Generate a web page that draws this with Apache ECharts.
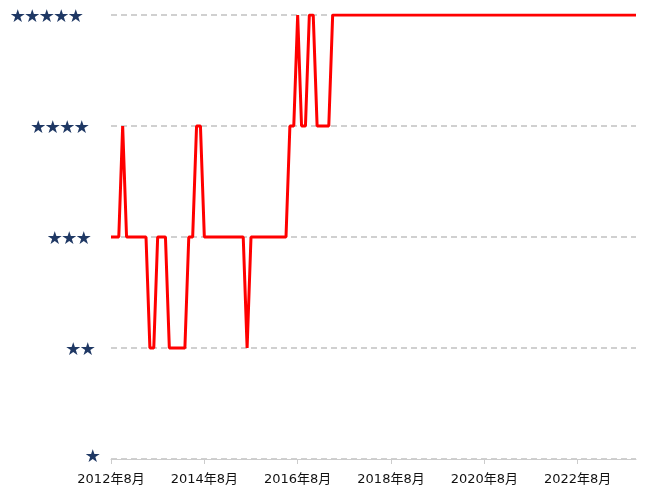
<!DOCTYPE html>
<html>
<head>
<meta charset="utf-8">
<script src="https://cdn.jsdelivr.net/npm/echarts@6/dist/echarts.min.js"></script>
<style>html,body{margin:0;padding:0;background:#fff}#c{width:650px;height:500px}</style>
</head>
<body>
<div id="c"></div>
<script>
// Monthly categories from 2012年8月, 136 months
var startYear = 2012, startMonth = 8, monthCount = 136;
var categories = [];
for (var k = 0; k < monthCount; k++) {
  var m = startMonth - 1 + k;
  categories.push((startYear + Math.floor(m / 12)) + '年' + (m % 12 + 1) + '月');
}
// Star rating per month (1..5)
var ratings = [
  3,3,3,4,3,3,3,3,3,3,
  2,2,3,3,3,2,2,2,2,2,
  3,3,4,4,3,3,3,3,3,3,
  3,3,3,3,3,2,3,3,3,3,
  3,3,3,3,3,3,4,4,5,4,
  4,5,5,4,4,4,4,5,5,5,
  5,5,5,5,5,5,5,5,5,5,
  5,5,5,5,5,5,5,5,5,5,
  5,5,5,5,5,5,5,5,5,5,
  5,5,5,5,5,5,5,5,5,5,
  5,5,5,5,5,5,5,5,5,5,
  5,5,5,5,5,5,5,5,5,5,
  5,5,5,5,5,5,5,5,5,5,
  5,5,5,5,5,5
];
var starLabels = ['★', '★★', '★★★', '★★★★', '★★★★★'];

var chart = echarts.init(document.getElementById('c'));
var rich = {};
var pads = [[0, 3, 8, 0], [0, 8, 0, 0], [0, 12, 0, 0], [0, 14, 0, 0], [0, 20, 0, 0]];
for (var s = 0; s < 5; s++) {
  rich['s' + (s + 1)] = {
    color: '#1f3864', fontSize: 14.5, fontFamily: 'Noto Sans CJK SC',
    padding: pads[s]
  };
}
chart.setOption({
  animation: false,
  grid: { left: 111, right: 14, top: 15, bottom: 41 },
  xAxis: {
    type: 'category',
    data: categories,
    boundaryGap: false,
    axisLine: { lineStyle: { color: '#cccccc', width: 1 } },
    axisTick: { interval: 23, length: 5, lineStyle: { color: '#cccccc' } },
    axisLabel: {
      interval: 23, margin: 14, color: '#111', fontSize: 13,
      fontFamily: 'DejaVu Sans, Noto Sans CJK SC'
    },
    splitLine: { show: false }
  },
  yAxis: {
    type: 'value',
    min: 1, max: 5, interval: 1,
    axisLine: { show: false },
    axisTick: { show: false },
    axisLabel: {
      margin: 8,
      formatter: function (v) { return '{s' + v + '|' + starLabels[v - 1] + '}'; },
      rich: rich
    },
    splitLine: { lineStyle: { color: '#d0d0d0', width: 2, type: [6, 4] } }
  },
  series: [{
    type: 'line',
    data: ratings,
    symbol: 'none',
    lineStyle: { color: '#ff0000', width: 3 },
    itemStyle: { color: '#ff0000' }
  }]
});
</script>
</body>
</html>
